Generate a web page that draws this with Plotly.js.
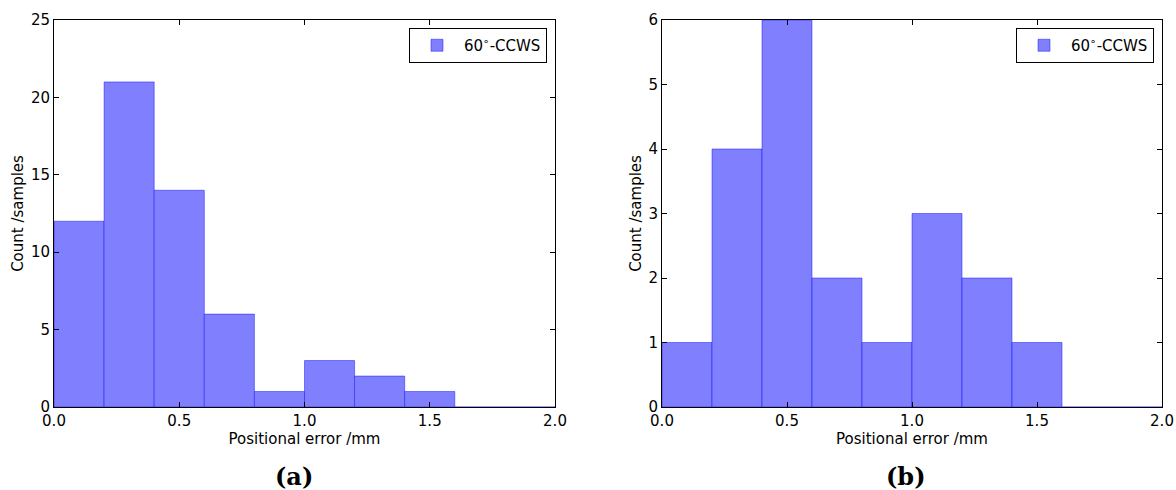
<!DOCTYPE html>
<html>
<head>
<meta charset="utf-8">
<script src="https://cdn.plot.ly/plotly-3.0.1.min.js"></script>
<style>html,body{margin:0;padding:0;background:#fff;} #chart{width:1176px;height:490px;}</style>
</head>
<body>
<div id="chart"></div>
<script>
// Histogram bin centres (bin width 0.2 mm)
const binCenters = [0.1, 0.3, 0.5, 0.7, 0.9, 1.1, 1.3, 1.5, 1.7, 1.9];
const binWidth = 0.2;
// Counts per bin
const countsA = [12, 21, 14, 6, 1, 3, 2, 1, 0, 0];
const countsB = [1, 4, 6, 2, 1, 3, 2, 1, 0, 0];
const seriesName = '60<sup>∘</sup>-CCWS';
const xTitle = 'Positional error /mm';
const yTitle = 'Count /samples';
const panelLabels = ['<b>(a)</b>', '<b>(b)</b>'];

const fill = '#8080ff';
const edge = 'rgba(0,0,255,0.55)';
const widths = binCenters.map(() => binWidth);

const traces = [
  {type: 'bar', x: binCenters, y: countsA, width: widths, name: seriesName, showlegend: true,
   marker: {color: fill, line: {color: edge, width: 0.8}}, xaxis: 'x', yaxis: 'y', legend: 'legend'},
  {type: 'bar', x: binCenters, y: countsB, width: widths, name: seriesName, showlegend: true,
   marker: {color: fill, line: {color: edge, width: 0.8}}, xaxis: 'x2', yaxis: 'y2', legend: 'legend2'}
];

const font = {family: 'DejaVu Sans', size: 15, color: '#000'};
function xa(dom, anchor) {
  return {domain: dom, anchor: anchor, range: [0, 2], dtick: 0.5, tick0: 0, tickformat: '.1f',
    ticks: 'inside', ticklen: 5, tickcolor: '#000', tickwidth: 1, mirror: 'allticks',
    showline: true, linecolor: '#000', linewidth: 1, showgrid: false, zeroline: false,
    tickfont: font, title: {text: xTitle, font: font, standoff: 2}, fixedrange: true};
}
function ya(dom, anchor, max, dt) {
  return {domain: dom, anchor: anchor, range: [0, max], dtick: dt, tick0: 0,
    ticks: 'inside', ticklen: 5, tickcolor: '#000', tickwidth: 1, mirror: 'allticks',
    showline: true, linecolor: '#000', linewidth: 1, showgrid: false, zeroline: false,
    tickfont: font, title: {text: yTitle, font: font, standoff: 3}, fixedrange: true};
}
const yDom = [83/490, 470/490];
const legendBase = {xanchor: 'right', yanchor: 'top', xref: 'paper', yref: 'paper',
  bgcolor: '#fff', bordercolor: '#000', borderwidth: 1, font: font, itemwidth: 44, visible: true};
const layout = {
  width: 1176, height: 490,
  margin: {l: 0, r: 0, t: 0, b: 0},
  paper_bgcolor: '#fff', plot_bgcolor: '#fff',
  bargap: 0, barmode: 'overlay',
  showlegend: true,
  font: font,
  xaxis: xa([54/1176, 555/1176], 'y'),
  yaxis: ya(yDom, 'x', 25, 5),
  xaxis2: xa([662/1176, 1162/1176], 'y2'),
  yaxis2: ya(yDom, 'x2', 6, 1),
  legend: Object.assign({x: 547/1176, y: 462/490}, legendBase),
  legend2: Object.assign({x: 1154/1176, y: 462/490}, legendBase),
  annotations: [
    {text: panelLabels[0], x: 294/1176, y: 14/490, xref: 'paper', yref: 'paper', showarrow: false,
     xanchor: 'center', yanchor: 'middle', font: {family: 'DejaVu Serif', size: 24, color: '#000'}},
    {text: panelLabels[1], x: 906/1176, y: 14/490, xref: 'paper', yref: 'paper', showarrow: false,
     xanchor: 'center', yanchor: 'middle', font: {family: 'DejaVu Serif', size: 24, color: '#000'}}
  ]
};
Plotly.newPlot('chart', traces, layout, {displayModeBar: false, staticPlot: true});
</script>
</body>
</html>
